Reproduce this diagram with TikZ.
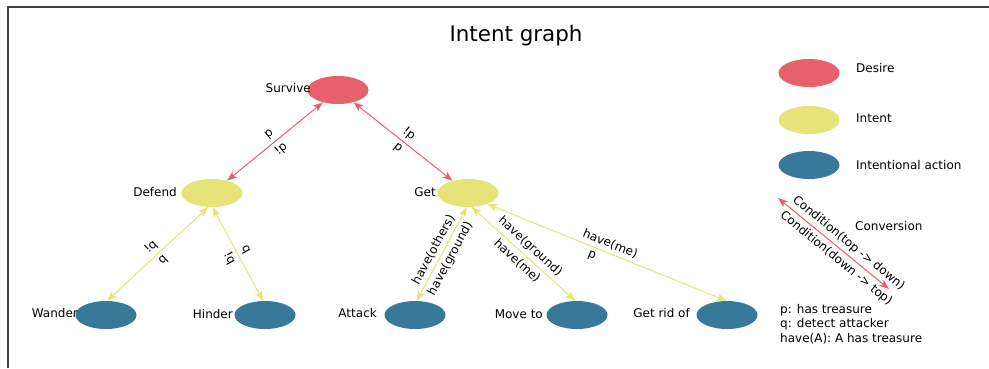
\documentclass[tikz,border=0pt]{standalone}
\usepackage{fontspec}
\setmainfont{DejaVu Sans}
\usetikzlibrary{arrows.meta, positioning, shapes.geometric}

\definecolor{desirered}{HTML}{E6616B}
\definecolor{intentyellow}{HTML}{E6E478}
\definecolor{actionblue}{HTML}{387899}

\begin{document}
\begin{tikzpicture}[
  x=1pt, y=-1pt,
  font=\fontsize{12}{14.5}\selectfont,
  >={Stealth[length=10pt, width=7.5pt, inset=2.5pt]},
  desire/.style={ellipse, fill=desirered, minimum width=61pt, minimum height=28pt, inner sep=0pt},
  intent/.style={ellipse, fill=intentyellow, minimum width=61pt, minimum height=28pt, inner sep=0pt},
  action/.style={ellipse, fill=actionblue, minimum width=61pt, minimum height=28pt, inner sep=0pt},
  tag/.style={anchor=east, inner sep=0pt},
  legendtext/.style={anchor=west, inner sep=0pt},
  redarrow/.style={<->, draw=desirered, line width=1pt},
  yellowarrow/.style={<->, draw=intentyellow, line width=1pt},
  edgelabel/.style={sloped, midway, inner sep=3.5pt},
]
\useasboundingbox (0,0) rectangle (989,368);

% Axes frame
\draw[black!75, line width=1.2pt] (8,368) -- (8,7) -- (989,7);

% Title
\node[font=\fontsize{21.4}{24}\selectfont] (title) at (516,36) {Intent graph};

% Desire
\node[desire] (survive) at (338,90) {};
\node[tag] (survivetxt) at (311,88) {Survive};

% Intents
\node[intent] (defend) at (212,193) {};
\node[tag] (defendtxt) at (177,192) {Defend};
\node[intent] (get) at (468,193) {};
\node[tag] (gettxt) at (436,192) {Get};

% Intentional actions
\node[action] (wander) at (106,315) {};
\node[tag] (wandertxt) at (78,313) {Wander};
\node[action] (hinder) at (265,315) {};
\node[tag] (hindertxt) at (233,314) {Hinder};
\node[action] (attack) at (415,315) {};
\node[tag] (attacktxt) at (377,313) {Attack};
\node[action] (moveto) at (577,315) {};
\node[tag] (movetotxt) at (543,314) {Move to};
\node[action] (getridof) at (727,315) {};
\node[tag] (getridoftxt) at (690,313) {Get rid of};

% Conversions
\draw[redarrow] (survive) -- node[edgelabel, above] {p} node[edgelabel, below] {!p} (defend);
\draw[redarrow] (survive) -- node[edgelabel, above] {!p} node[edgelabel, below] {p} (get);

\draw[yellowarrow] (defend.255) -- node[edgelabel, above] {!q} node[edgelabel, below] {q} (wander.86);
\draw[yellowarrow] (defend.272) -- node[edgelabel, above] {q} node[edgelabel, below] {!q} (hinder.98);

\draw[yellowarrow] (get.265) -- node[edgelabel, above] {have(others)} node[edgelabel, below] {have(ground)} (attack.83);
\draw[yellowarrow] (get.285) -- node[edgelabel, above] {have(ground)} node[edgelabel, below] {have(me)} (moveto.97);
\draw[yellowarrow] (get.330) -- node[edgelabel, above] {have(me)} node[edgelabel, below, pos=0.45] {p} (getridof.92);

% Legend
\node[desire] (desirekey) at (809,73) {};
\node[legendtext] (desiretxt) at (856,68) {Desire};
\node[intent] (intentkey) at (809,120) {};
\node[legendtext] (intenttxt) at (856,118) {Intent};
\node[action] (actionkey) at (809,165) {};
\node[legendtext] (actiontxt) at (856,165) {Intentional action};

\coordinate (convtop) at (778,198);
\coordinate (convbot) at (889,289);
\draw[redarrow] (convtop) -- node[edgelabel, above, pos=0.58] {Condition(top -> down)} node[edgelabel, below, pos=0.58] {Condition(down -> top)} (convbot);
\node[legendtext] (convtxt) at (855,226) {Conversion};

\node[anchor=north west, align=left, inner sep=0pt] (notes) at (780,304) {
  p: has treasure \\
  q: detect attacker \\
  have(A): A has treasure
};

\end{tikzpicture}
\end{document}
